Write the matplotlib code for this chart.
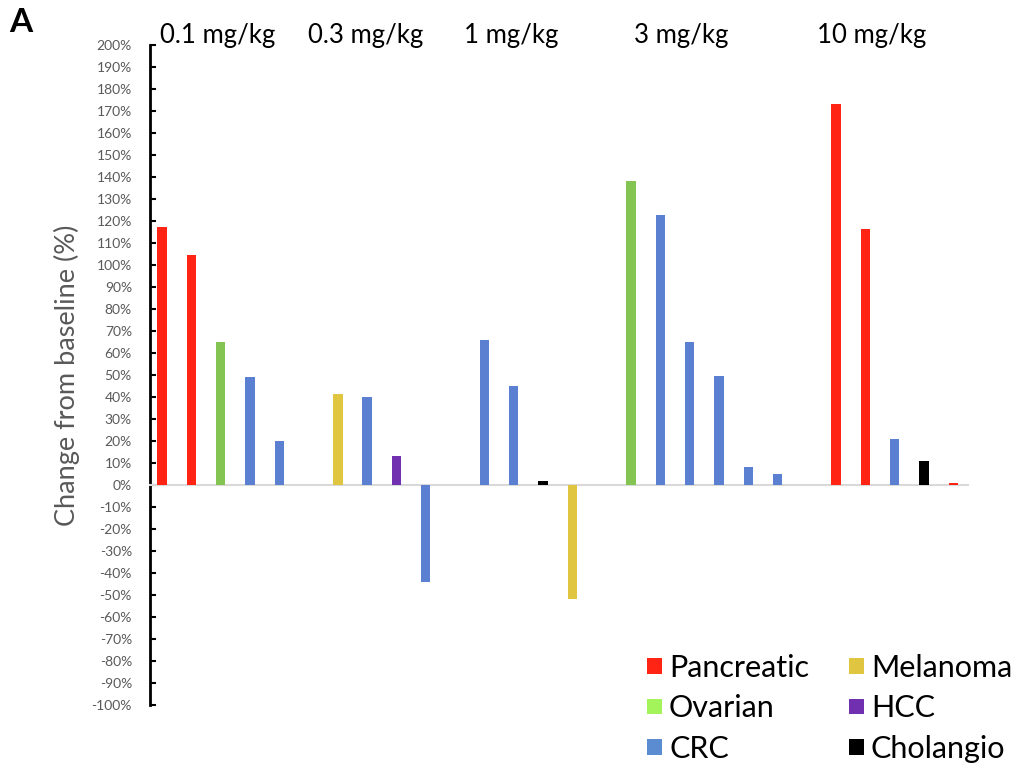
import matplotlib
matplotlib.use('Agg')
import matplotlib.pyplot as plt
from matplotlib.patches import Patch
import numpy as np

plt.rcParams['font.family'] = ['Lato', 'DejaVu Sans']

# data: one list per dose group
dose_labels = ['0.1 mg/kg', '0.3 mg/kg', '1 mg/kg', '3 mg/kg', '10 mg/kg']
group_values = [
    [117.4, 104.5, 65, 49, 20],
    [41.2, 40, 13.3, -44],
    [66, 45, 2, -52],
    [138.2, 122.6, 65, 49.5, 8, 5],
    [173.3, 116.2, 21, 11, 1],
]
group_types = [
    ['Pancreatic', 'Pancreatic', 'Ovarian', 'CRC', 'CRC'],
    ['Melanoma', 'CRC', 'HCC', 'CRC'],
    ['CRC', 'CRC', 'Cholangio', 'Melanoma'],
    ['Ovarian', 'CRC', 'CRC', 'CRC', 'CRC', 'CRC'],
    ['Pancreatic', 'Pancreatic', 'CRC', 'Cholangio', 'Pancreatic'],
]
# legend is filled column by column
legend_order = ['Pancreatic', 'Ovarian', 'CRC', 'Melanoma', 'HCC', 'Cholangio']
yticks = np.arange(-100, 201, 10)

# colours
bar_colors = {'Pancreatic': '#ff2414', 'Melanoma': '#dfc540', 'Ovarian': '#84c452',
              'HCC': '#7030b0', 'CRC': '#5b7fd1', 'Cholangio': '#000000'}
legend_colors = dict(bar_colors, Ovarian='#a3f35b', CRC='#5b8bd0')

fig = plt.figure(figsize=(10.16, 7.69), dpi=100)
ax = fig.add_axes([0.1476, 0.0832, 0.8052, 0.8583])

# bar positions: one empty slot between groups
xs, vals, cols, starts = [], [], [], []
pos = 0
for v, t in zip(group_values, group_types):
    starts.append(pos)
    for val, typ in zip(v, t):
        xs.append(pos)
        vals.append(val)
        cols.append(bar_colors[typ])
        pos += 1
    pos += 1

ax.bar(xs, vals, width=0.32, color=cols, edgecolor='none', zorder=3)

ax.set_xlim(-0.41, 27.5)
ax.set_ylim(-100, 200)
ax.set_yticks(yticks)
ax.set_yticklabels(['%d%%' % t for t in yticks])
ax.set_xticks([])

for s in ['top', 'right']:
    ax.spines[s].set_visible(False)
ax.spines['left'].set_linewidth(2)
ax.spines['left'].set_color('black')
ax.spines['bottom'].set_position(('data', 0))
ax.spines['bottom'].set_color('#d9d9d9')
ax.spines['bottom'].set_linewidth(1.5)
ax.tick_params(axis='y', direction='in', length=4, width=1.5, colors='black',
               labelcolor='#595959', labelsize=10, pad=13)

ax.set_ylabel('Change from baseline (%)', fontsize=19.5, color='#595959', labelpad=8)

# dose labels above the groups
label_shift = [-0.1, -0.55, -0.6, -0.8, -0.8]
for lab, st, v, sh in zip(dose_labels, starts, group_values, label_shift):
    cx = st + (len(v) - 1) / 2 + sh
    ax.text(cx, 1.003, lab, transform=ax.get_xaxis_transform(), ha='center', va='baseline',
            fontsize=18.5, color='black')

fig.text(0.009, 0.99, 'A', fontsize=24, fontweight='bold', va='top', ha='left')

handles = [Patch(facecolor=legend_colors[k], edgecolor='none', label=k) for k in legend_order]
fig.legend(handles=handles, ncol=2, loc='lower right', bbox_to_anchor=(1012 / 1016, 6 / 769),
           frameon=False, fontsize=22, handlelength=0.49, handleheight=0.42,
           handletextpad=0.23, columnspacing=1.3, labelspacing=0.41,
           borderaxespad=0, borderpad=0)

fig.savefig('out.png', dpi=100, facecolor='white')
